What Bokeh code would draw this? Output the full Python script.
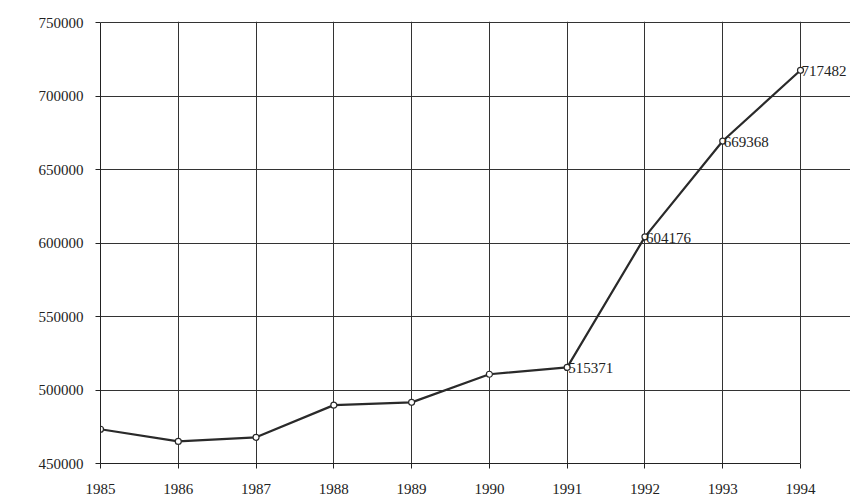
from bokeh.plotting import figure
from bokeh.models import ColumnDataSource, Range1d, FixedTicker, BasicTickFormatter
from bokeh.embed import file_html
from bokeh.resources import INLINE
from bokeh.core.properties import value

years = [1985, 1986, 1987, 1988, 1989, 1990, 1991, 1992, 1993, 1994]
values = [473300, 465000, 467800, 489700, 491600, 510700, 515371, 604176, 669368, 717482]
label_years = [1991, 1992, 1993, 1994]
label_values = [515371, 604176, 669368, 717482]
label_texts = ["515371", "604176", "669368", "717482"]
y_ticks = [450000, 500000, 550000, 600000, 650000, 700000, 750000]

FONT = "Liberation Serif"

# frame extends right of 1994 so the last data label is not clipped;
# grid/axis bounds keep the visible chart box at 1985-1994
p = figure(width=850, height=495, output_backend="svg", toolbar_location=None,
           frame_width=750, frame_height=442,
           x_range=Range1d(1985, 1994 + 50 / (700 / 9)),
           y_range=Range1d(450000, 750000 + 300000 / 441))
p.min_border_left = 100
p.min_border_right = 0
p.min_border_top = 21
p.min_border_bottom = 32
p.background_fill_color = "white"
p.border_fill_color = "white"
p.outline_line_color = None

p.xaxis.ticker = FixedTicker(ticks=years)
p.yaxis.ticker = FixedTicker(ticks=y_ticks)
p.yaxis.formatter = BasicTickFormatter(use_scientific=False)
p.xaxis.bounds = (1985, 1994)
p.yaxis.bounds = (450000, 750000)
for ax in (p.xaxis[0], p.yaxis[0]):
    ax.axis_line_color = "#222222"
    ax.major_tick_line_color = "#222222"
    ax.major_tick_out = 5
    ax.major_tick_in = 0
    ax.minor_tick_line_color = None
    ax.major_label_text_font = FONT
    ax.major_label_text_font_size = "15px"
    ax.major_label_text_color = "#222222"
p.xaxis.major_label_standoff = 15
p.yaxis.major_label_standoff = 12

p.xgrid.ticker = FixedTicker(ticks=years)
p.ygrid.ticker = FixedTicker(ticks=y_ticks)
p.xgrid.bounds = (450000, 750000)
p.ygrid.bounds = (1985, 1994)
p.grid.grid_line_color = "#333333"
p.grid.grid_line_alpha = 1.0
p.grid.grid_line_width = 1

src = ColumnDataSource(dict(x=years, y=values))
p.line("x", "y", source=src, line_color="#2a2a2a", line_width=2.2)
p.scatter("x", "y", source=src, marker="circle", size=6, fill_color="white",
          line_color="#2a2a2a", line_width=1.2)

lsrc = ColumnDataSource(dict(x=label_years, y=label_values, t=label_texts))
p.text("x", "y", text="t", source=lsrc, text_font=value(FONT), text_font_size="15px",
       text_color="#222222", text_align="left", text_baseline="middle", x_offset=1, y_offset=1)

open("out.html", "w").write(file_html(p, INLINE))
